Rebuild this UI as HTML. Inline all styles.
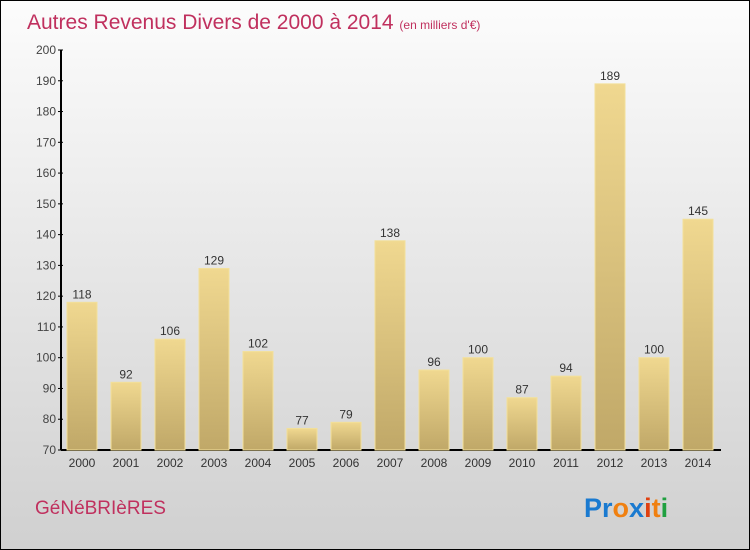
<!DOCTYPE html>
<html><head><meta charset="utf-8"><style>
body{margin:0;}
#wrap{position:relative;width:748px;height:548px;border:1px solid #000;background:linear-gradient(#fcfcfc,#d0d0d0);font-family:"Liberation Sans",sans-serif;overflow:hidden}
</style></head><body>
<div id="wrap">
<svg width="748" height="548">
<defs><linearGradient id="bg" x1="0" y1="0" x2="0" y2="1"><stop offset="0" stop-color="#f0d890"/><stop offset="1" stop-color="#c0a868"/></linearGradient></defs>
<text x="26" y="28" font-size="21" fill="#c0305e">Autres Revenus Divers de 2000 à 2014 <tspan font-size="12">(en milliers d'€)</tspan></text>
<g id="axes"></g><g id="bars"></g>
<text x="34" y="513" font-size="19" fill="#c0305e">GéNéBRIèRES</text>
<g font-size="27" font-weight="bold" font-family="Liberation Sans, sans-serif">
<text x="583" y="516"><tspan fill="#1a7ad0">Pr</tspan><tspan fill="#f08010">o</tspan><tspan fill="#1a7ad0">x</tspan><tspan fill="#e04010">i</tspan><tspan fill="#f08010">t</tspan><tspan fill="#20a040">i</tspan></text></g>
</svg></div>
<script>
const years=["2000","2001","2002","2003","2004","2005","2006","2007","2008","2009","2010","2011","2012","2013","2014"];
const values=[118,92,106,129,102,77,79,138,96,100,87,94,189,100,145];
const ticks=[70,80,90,100,110,120,130,140,150,160,170,180,190,200];
const NS="http://www.w3.org/2000/svg";
const y=v=>449-(v-70)*(400/130);
const x=i=>81+i*44;
function mk(t,a,p){const e=document.createElementNS(NS,t);for(const k in a)e.setAttribute(k,a[k]);p.appendChild(e);return e;}
const ax=document.getElementById('axes'),bs=document.getElementById('bars');
let l=mk('line',{x1:60,y1:y(200),x2:60,y2:449,stroke:'#000','stroke-width':2},ax);


l=mk('line',{x1:60,y1:449,x2:720,y2:449,stroke:'#000','stroke-width':2},ax);


ticks.forEach(t=>{mk('line',{x1:57,x2:62,y1:y(t),y2:y(t),stroke:'#000'},ax);
const tx=mk('text',{x:55,y:y(t)+4,'text-anchor':'end','font-size':12,fill:'#444'},ax);tx.textContent=t;

});
values.forEach((v,i)=>{const r=mk('rect',{x:x(i)-15,y:y(v),width:30,height:449-y(v),fill:'url(#bg)',stroke:'#f3e09a','stroke-width':1},bs);


const lb=mk('text',{x:x(i),y:y(v)-4,'text-anchor':'middle','font-size':12,fill:'#333'},bs);lb.textContent=v;


const yl=mk('text',{x:x(i),y:466,'text-anchor':'middle','font-size':12,fill:'#333'},bs);yl.textContent=years[i];

});
</script>
</body></html>
